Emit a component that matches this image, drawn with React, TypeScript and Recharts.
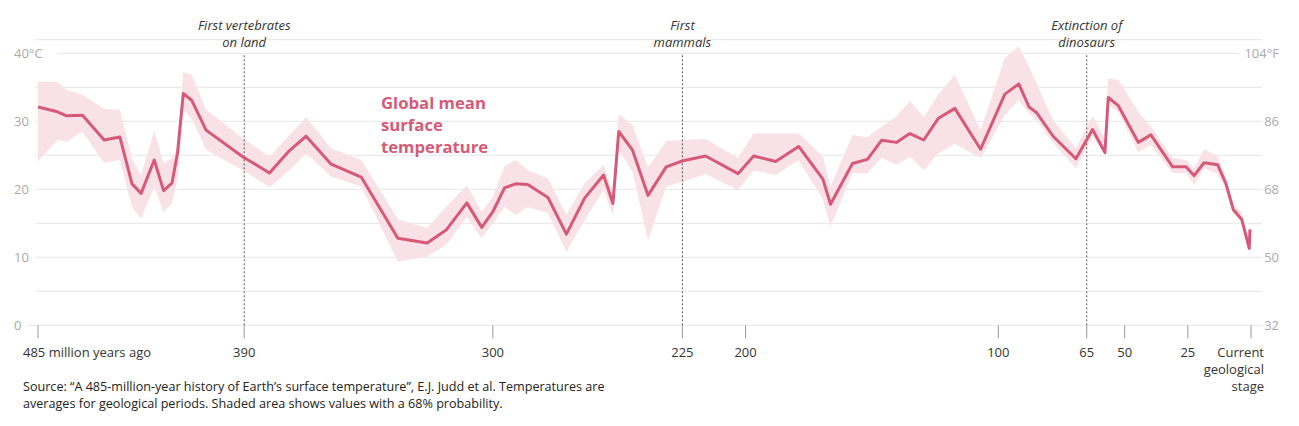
import React from 'react';
import { ComposedChart, Area, Line, XAxis, YAxis, CartesianGrid, ReferenceLine } from 'recharts';

// Age of each geological stage (million years ago)
const AGES = [480, 472.3, 468.7, 462.4, 453.8, 447.6, 442.8, 439.2, 434.0, 430.3, 427.0, 424.8, 422.5, 419.2, 413.5, 399.0, 388.4, 380.5, 373.9, 364.0, 352.1, 337.6, 326.0, 318.5, 310.3, 304.4, 300.0, 295.4, 291.0, 286.2, 278.2, 270.9, 263.7, 256.2, 252.5, 250.2, 244.8, 238.6, 231.4, 224.8, 215.8, 203.0, 196.8, 188.1, 179.0, 169.4, 166.4, 157.7, 151.8, 146.2, 140.3, 135.0, 129.5, 123.8, 117.2, 107.0, 97.4, 91.9, 87.8, 84.9, 78.3, 69.3, 62.7, 57.8, 56.5, 52.5, 44.6, 39.6, 31.0, 25.7, 22.5, 18.6, 13.2, 10.0, 7.0, 3.7, 0.7, 0.4];

// Global mean surface temperature (°C)
const MEAN_C = [32.1, 31.4, 30.8, 30.9, 27.25, 27.7, 20.8, 19.4, 24.3, 19.8, 20.9, 25.3, 34.1, 33.1, 28.7, 24.8, 22.4, 25.7, 27.8, 23.7, 21.8, 12.8, 12.1, 14.0, 18.0, 14.4, 16.7, 20.2, 20.8, 20.7, 18.8, 13.4, 18.7, 22.1, 17.9, 28.5, 25.8, 19.1, 23.3, 24.2, 24.9, 22.3, 24.9, 24.1, 26.3, 21.5, 17.8, 23.8, 24.4, 27.2, 26.9, 28.2, 27.25, 30.4, 31.9, 25.9, 34.0, 35.5, 32.1, 31.3, 27.8, 24.5, 28.8, 25.4, 33.5, 32.3, 26.9, 28.0, 23.3, 23.3, 22.0, 23.9, 23.6, 20.9, 17.0, 15.6, 11.3, 14.1];

// 68% probability range (°C)
const LOW_C = [24.1, 27.25, 27.0, 28.5, 23.9, 24.3, 17.4, 15.7, 20.4, 16.6, 17.9, 21.4, 31.7, 30.4, 25.8, 22.8, 20.3, 22.8, 25.3, 21.9, 20.4, 9.35, 10.1, 11.8, 16.0, 12.8, 15.0, 17.4, 16.2, 17.4, 16.5, 10.8, 15.5, 19.9, 16.2, 25.8, 22.6, 12.5, 20.4, 21.1, 22.25, 19.9, 22.8, 22.1, 24.3, 18.5, 14.5, 22.35, 22.35, 24.6, 23.6, 24.8, 22.8, 25.3, 26.7, 24.6, 30.9, 33.1, 31.2, 30.2, 26.8, 23.1, 27.7, 25.2, 32.4, 31.4, 25.5, 26.5, 22.4, 22.4, 20.6, 23.1, 22.25, 20.1, 16.5, 15.2, 11.1, 14.0];
const HIGH_C = [35.8, 35.8, 34.6, 33.9, 31.8, 31.7, 24.5, 22.1, 28.6, 23.8, 24.6, 26.0, 37.3, 36.8, 31.7, 27.5, 24.8, 28.0, 30.6, 26.0, 24.3, 15.6, 14.3, 17.4, 20.6, 16.7, 18.9, 23.4, 24.3, 22.8, 21.6, 16.2, 20.9, 23.6, 19.6, 31.0, 29.5, 23.2, 27.1, 27.25, 27.4, 24.6, 28.2, 28.2, 28.2, 24.8, 20.4, 28.0, 27.6, 29.2, 30.7, 33.0, 30.6, 33.9, 36.8, 28.7, 39.3, 41.0, 38.0, 35.6, 30.2, 26.0, 30.8, 27.5, 36.3, 36.1, 31.4, 29.2, 24.6, 24.3, 23.1, 25.8, 24.9, 21.85, 17.7, 16.7, 12.1, 14.3];

const X_TICKS = [480, 398.4, 300, 225, 200, 100, 65, 50, 25, 0];
const X_TICK_LABELS = ['485 million years ago', '390', '300', '225', '200', '100', '65', '50', '25', 'Current\ngeological\nstage'];
const C_TICKS = [0, 5, 10, 15, 20, 25, 30, 35, 40];
const C_LABELS = ['0', '', '10', '', '20', '', '30', '', '40\u00b0C'];
const F_LABELS = ['32', '', '50', '', '68', '', '86', '', '104\u00b0F'];

const EVENT_AGES = [398.4, 225, 65];
const EVENT_LABELS = [['First vertebrates', 'on land'], ['First', 'mammals'], ['Extinction of', 'dinosaurs']];

const SERIES_LABEL = ['Global mean', 'surface', 'temperature'];
const SOURCE_LINES = [
  'Source: \u201cA 485-million-year history of Earth\u2019s surface temperature\u201d, E.J. Judd et al. Temperatures are',
  'averages for geological periods. Shaded area shows values with a 68% probability.',
];

const LINE_COLOR = '#d65a78';
const BAND_COLOR = '#f8e1e7';
const GRID_COLOR = '#e6e6e6';
const FONT = '"Open Sans", "Noto Sans", sans-serif';

const data = AGES.map((age, i) => ({ age, mean: MEAN_C[i], band: [LOW_C[i], HIGH_C[i]] }));

const XTick = (props: any) => {
  const { x, payload, index } = props;
  const i = X_TICKS.indexOf(payload.value);
  const label = X_TICK_LABELS[i >= 0 ? i : index] || '';
  const cy = 352;
  if (i === 0) {
    return (
      <text x={x - 15} y={cy} dy="0.35em" textAnchor="start" fontSize={13} fill="#333">
        {label}
      </text>
    );
  }
  if (i === X_TICKS.length - 1) {
    const parts = label.split('\n');
    return (
      <text x={x + 13} y={cy} textAnchor="end" fontSize={13} fill="#333">
        {parts.map((p, k) => (
          <tspan key={k} x={x + 13} dy={k === 0 ? '0.35em' : 17}>
            {p}
          </tspan>
        ))}
      </text>
    );
  }
  return (
    <text x={x} y={cy} dy="0.35em" textAnchor="middle" fontSize={13} fill="#333">
      {label}
    </text>
  );
};

// Draws the °C label on the left and the matching °F label on the right
const CTick = (props: any) => {
  const { y, payload } = props;
  const i = C_TICKS.indexOf(payload.value);
  const left = C_LABELS[i] || '';
  const right = F_LABELS[i] || '';
  if (!left) return <g />;
  const top = i === C_TICKS.length - 1;
  const bottom = i === 0;
  return (
    <g>
      {top && <rect x={34} y={y - 2} width={24} height={4} fill="#fff" />}
      {top && <rect x={1239} y={y - 2} width={25} height={4} fill="#fff" />}
      {bottom && <line x1={27} x2={36} y1={y} y2={y} stroke={GRID_COLOR} />}
      <text x={14} y={y} dy="0.35em" textAnchor="start" fontSize={13} fill="#aaa">
        {left}
      </text>
      <text x={1279} y={y} dy="0.35em" textAnchor="end" fontSize={13} fill="#aaa">
        {right}
      </text>
    </g>
  );
};

const makeEventLabel = (lines: string[]) => (props: any) => {
  const vb = props.viewBox || {};
  const x = vb.x;
  return (
    <text x={x} y={25} textAnchor="middle" fontSize={13} fontStyle="italic" fill="#333">
      {lines.map((l, k) => (
        <tspan key={k} x={x} dy={k === 0 ? '0.35em' : 17}>
          {l}
        </tspan>
      ))}
    </text>
  );
};

export default function App() {
  return (
    <div style={{ position: 'absolute', left: 0, top: 0, width: 1299, height: 426, fontFamily: FONT, background: '#fff' }}>
      <ComposedChart
        width={1299}
        height={426}
        data={data}
        margin={{ top: 39.7, right: 37, bottom: 40.7, left: 0 }}
      >
        <CartesianGrid vertical={false} stroke={GRID_COLOR} yAxisId="c" />
        <XAxis
          dataKey="age"
          type="number"
          domain={[0, 480]}
          reversed
          padding={{ left: 3, right: 11 }}
          ticks={X_TICKS}
          interval={0}
          tickSize={13}
          tickLine={{ stroke: '#999' }}
          axisLine={false}
          height={60}
          tick={<XTick />}
        />
        <YAxis
          yAxisId="c"
          orientation="left"
          width={35}
          type="number"
          domain={[0, 42]}
          ticks={C_TICKS}
          interval={0}
          tickLine={false}
          axisLine={false}
          tick={<CTick />}
        />
        <Area
          yAxisId="c"
          dataKey="band"
          type="linear"
          stroke="none"
          fill={BAND_COLOR}
          fillOpacity={1}
          isAnimationActive={false}
          dot={false}
          activeDot={false}
        />
        {EVENT_AGES.map((age, i) => (
          <ReferenceLine
            key={i}
            yAxisId="c"
            segment={[{ x: age, y: 0 }, { x: age, y: 40 }]}
            stroke="#555"
            strokeDasharray="2 2"
            label={makeEventLabel(EVENT_LABELS[i])}
          />
        ))}
        <Line
          yAxisId="c"
          dataKey="mean"
          type="linear"
          stroke={LINE_COLOR}
          strokeWidth={3}
          strokeLinejoin="round"
          dot={false}
          activeDot={false}
          isAnimationActive={false}
        />
      </ComposedChart>
      <div
        style={{
          position: 'absolute',
          left: 381,
          top: 92,
          fontSize: 16.7,
          lineHeight: '22px',
          fontWeight: 700,
          color: LINE_COLOR,
        }}
      >
        {SERIES_LABEL.map((l, k) => (
          <div key={k}>{l}</div>
        ))}
      </div>
      <div
        style={{
          position: 'absolute',
          left: 23,
          top: 377.5,
          fontSize: 12.6,
          lineHeight: '17px',
          color: '#222',
          whiteSpace: 'nowrap',
        }}
      >
        {SOURCE_LINES.map((l, k) => (
          <div key={k}>{l}</div>
        ))}
      </div>
    </div>
  );
}
